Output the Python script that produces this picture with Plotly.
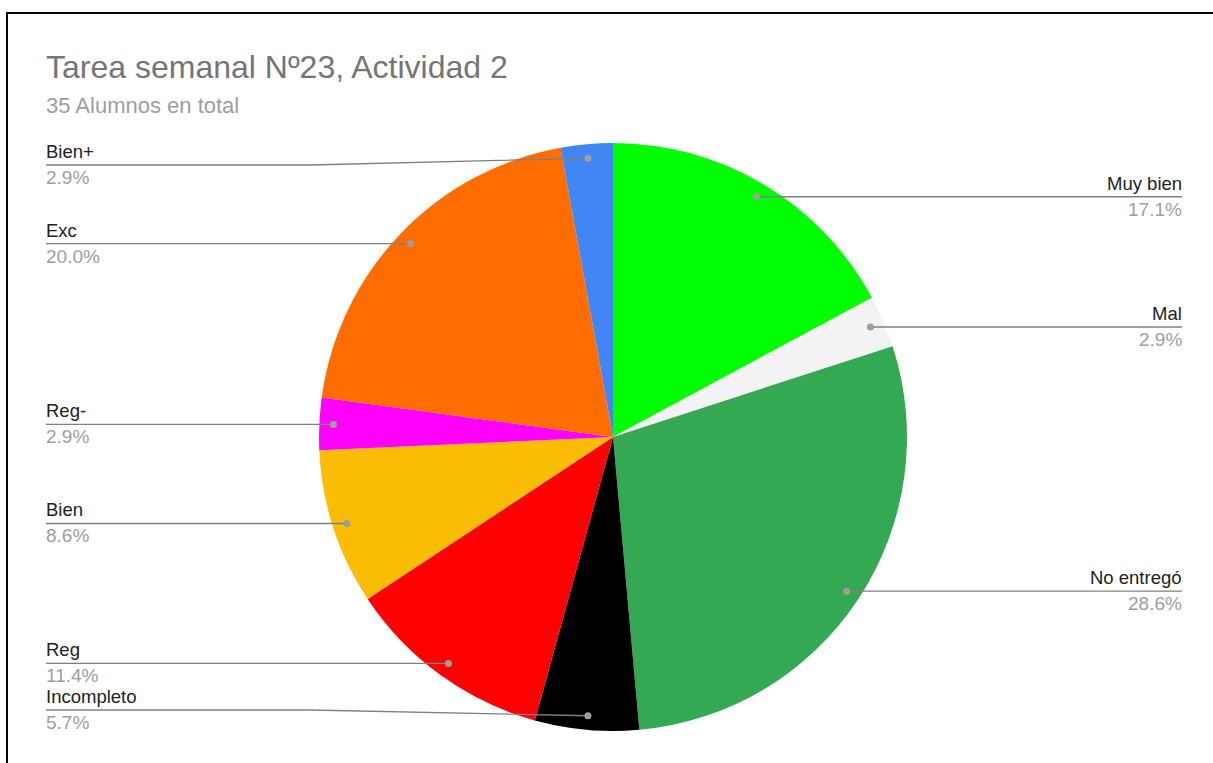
import math
import plotly.graph_objects as go

W, H = 1213, 763

title_text = "Tarea semanal Nº23, Actividad 2"
subtitle_text = "35 Alumnos en total"
categories = ["Muy bien", "Mal", "No entregó", "Incompleto", "Reg", "Bien", "Reg-", "Exc", "Bien+"]
counts = [6, 1, 10, 2, 4, 3, 1, 7, 1]
colors = ["#00ff00", "#f3f3f3", "#34a853", "#000000", "#ff0000", "#fbbc04", "#ff00ff", "#ff6d01", "#4285f4"]

FONT = "Liberation Sans, Arial, sans-serif"

# pie geometry in window pixels
CX, CY, R = 613, 437, 294


def px(x):
    return x / W


def py(y):
    return 1 - y / H


dom_x = [px(CX - R), px(CX + R)]
dom_y = [py(CY + R), py(CY - R)]

fig = go.Figure(go.Pie(
    labels=categories, values=counts, sort=False, direction="clockwise", rotation=0,
    marker=dict(colors=colors, line=dict(width=0)),
    textinfo="none", hole=0, showlegend=False,
    domain=dict(x=dom_x, y=dom_y),
))

shapes = []
annotations = []

# frame
shapes.append(dict(type="rect", xref="paper", yref="paper",
                   x0=px(7), x1=px(W + 20), y0=py(H + 20), y1=py(13),
                   line=dict(color="#000000", width=2), fillcolor="rgba(0,0,0,0)", layer="above"))

total = sum(counts)
cum = 0
LEFT_X, RIGHT_X = 46, 1182
TOP_LIM, BOT_LIM = 165, 710
for name, v in zip(categories, counts):
    mid = (cum + v / 2) / total * 2 * math.pi
    cum += v
    r = 0.952 * R
    dx = CX + r * math.sin(mid)
    dy = CY - r * math.cos(mid)
    ly = min(max(dy, TOP_LIM), BOT_LIM)
    left = dx < CX
    pct = f"{v / total * 100:.1f}%"
    if left:
        ex = LEFT_X
        bend = 310
        path = f"M {px(ex)},{py(ly)} L {px(bend)},{py(ly)} L {px(dx)},{py(dy)}"
        xa = "left"
    else:
        ex = RIGHT_X
        path = f"M {px(dx)},{py(dy)} L {px(ex)},{py(ly)}"
        xa = "right"
    shapes.append(dict(type="path", xref="paper", yref="paper", path=path,
                       line=dict(color="#808080", width=1.3), layer="above"))
    shapes.append(dict(type="circle", xref="paper", yref="paper",
                       xsizemode="pixel", ysizemode="pixel",
                       xanchor=px(dx), yanchor=py(dy), x0=-3.5, x1=3.5, y0=-3.5, y1=3.5,
                       fillcolor="#9e9e9e", line=dict(width=0), layer="above"))
    annotations.append(dict(x=px(ex), y=py(ly - 1), xref="paper", yref="paper",
                            text=name, showarrow=False, xanchor=xa, yanchor="bottom",
                            xshift=(-2 if left else 2),
                            font=dict(family=FONT, size=18.5, color="#222222")))
    annotations.append(dict(x=px(ex), y=py(ly), xref="paper", yref="paper",
                            text=pct, showarrow=False, xanchor=xa, yanchor="top",
                            xshift=(-2 if left else 2),
                            font=dict(family=FONT, size=19, color="#9e9e9e")))

annotations.append(dict(x=px(44), y=py(67), xref="paper", yref="paper", text=title_text,
                        showarrow=False, xanchor="left", yanchor="middle",
                        font=dict(family=FONT, size=32, color="#757575")))
annotations.append(dict(x=px(44), y=py(106), xref="paper", yref="paper", text=subtitle_text,
                        showarrow=False, xanchor="left", yanchor="middle",
                        font=dict(family=FONT, size=22, color="#9e9e9e")))

fig.update_layout(
    width=W, height=H,
    margin=dict(l=0, r=0, t=0, b=0),
    paper_bgcolor="#ffffff", plot_bgcolor="#ffffff",
    shapes=shapes, annotations=annotations,
)

fig.write_html(
    "out.html",
    config={"displayModeBar": False},
    post_script="document.body.style.margin='0';document.body.style.overflow='hidden';",
)
